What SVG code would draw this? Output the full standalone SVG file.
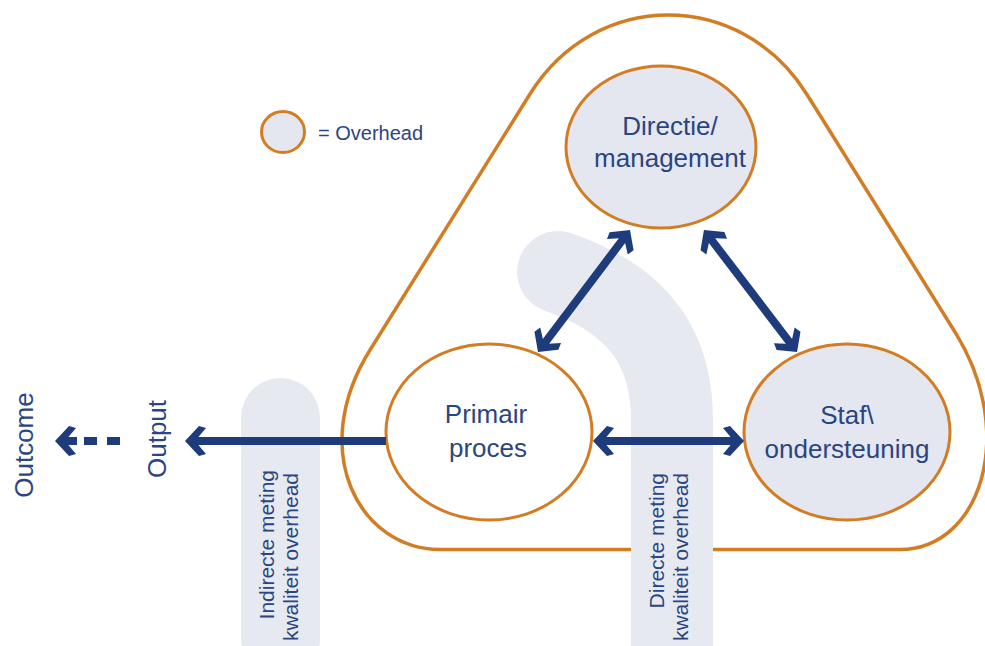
<svg xmlns="http://www.w3.org/2000/svg" width="985" height="646" viewBox="0 0 985 646">
  <style>
    .outer { fill: none; stroke: #d27d24; stroke-width: 3.5; }
    .node { stroke: #d27d24; stroke-width: 3; }
    .overhead { fill: #e4e7ef; }
    .plain { fill: #ffffff; }
    .band { fill: none; stroke: #e6e9f0; stroke-linecap: round; }
    .bandrect { fill: #e6e9f0; }
    .lbl { font-family: "Liberation Sans", Arial, sans-serif; fill: #2b4580; }
    .node-lbl { font-size: 26px; text-anchor: middle; }
    .vlbl { font-size: 21px; text-anchor: end; }
    .conn { stroke: #1e3b7c; stroke-width: 8; fill: none; }
  </style>
  <defs>
    <marker id="ah" markerUnits="userSpaceOnUse" viewBox="-22 -16 32 32" markerWidth="32" markerHeight="32" refX="-8" refY="0" orient="auto-start-reverse" overflow="visible">
      <path d="M0 0 L-14 -15 L-21 -13 L-10 0 L-21 13 L-14 15 Z" fill="#1e3b7c"/>
    </marker>
  </defs>

  <rect width="985" height="646" fill="#ffffff"/>

  <!-- outer rounded triangle (overhead boundary) -->
  <path id="boundary" class="outer" d="M440 549.5 L900 549.5 C980 549.5 1018.5 433.9 955 332 L816.7 110 L806.6 94 C741 -11.3 595.6 -11.3 530 94 L520 110 L370 350 C306.5 451.9 360 549.5 440 549.5 Z"/>

  <!-- measurement bands -->
  <g id="band-indirect">
    <rect class="bandrect" x="241" y="378" width="79" height="300" rx="39.5" ry="39.5"/>
  </g>
  <g id="band-direct">
    <path class="band" stroke-width="82" d="M558 272 C640 300 672 350 672 420 L672 700"/>
  </g>

  <!-- legend -->
  <g id="legend">
    <ellipse class="node overhead" cx="283" cy="132" rx="21.5" ry="20.5"/>
    <text class="lbl" x="318" y="140" font-size="20">= Overhead</text>
  </g>

  <!-- nodes -->
  <g id="directie">
    <ellipse class="node overhead" cx="661" cy="147" rx="95" ry="81"/>
    <text class="lbl node-lbl" x="670" y="135">Directie/</text>
    <text class="lbl node-lbl" x="670" y="167">management</text>
  </g>
  <g id="primair">
    <ellipse class="node plain" cx="489" cy="432" rx="103" ry="88"/>
    <text class="lbl node-lbl" x="486" y="423">Primair</text>
    <text class="lbl node-lbl" x="488" y="457">proces</text>
  </g>
  <g id="staf">
    <ellipse class="node overhead" cx="847" cy="432" rx="103" ry="88"/>
    <text class="lbl node-lbl" x="847" y="424">Staf\</text>
    <text class="lbl node-lbl" x="847" y="458">ondersteuning</text>
  </g>

  <!-- connectors -->
  <g id="connectors">
    <line class="conn" x1="386" y1="441" x2="193" y2="441" marker-end="url(#ah)"/>
    <line class="conn" x1="601" y1="441" x2="736" y2="441" marker-start="url(#ah)" marker-end="url(#ah)"/>
    <line class="conn" x1="542.8" y1="345.6" x2="625.2" y2="236.4" marker-start="url(#ah)" marker-end="url(#ah)"/>
    <line class="conn" x1="708.8" y1="236.4" x2="792.2" y2="345.6" marker-start="url(#ah)" marker-end="url(#ah)"/>
    <line class="conn" x1="120" y1="441" x2="84" y2="441" stroke-width="9" stroke-dasharray="13 10"/>
    <line class="conn" x1="77" y1="441" x2="63" y2="441" marker-end="url(#ah)"/>
  </g>

  <!-- side labels -->
  <g id="outcome">
    <text class="lbl" font-size="26" text-anchor="middle" transform="translate(33,445) rotate(-90)">Outcome</text>
  </g>
  <g id="output">
    <text class="lbl" font-size="26" text-anchor="middle" transform="translate(166,439) rotate(-90)">Output</text>
  </g>
  <g id="indirect-label">
    <text class="lbl vlbl" transform="translate(274,470) rotate(-90)">Indirecte meting</text>
    <text class="lbl vlbl" transform="translate(298,473) rotate(-90)">kwaliteit overhead</text>
  </g>
  <g id="direct-label">
    <text class="lbl vlbl" transform="translate(664,473) rotate(-90)">Directe meting</text>
    <text class="lbl vlbl" transform="translate(688,473) rotate(-90)">kwaliteit overhead</text>
  </g>
</svg>
